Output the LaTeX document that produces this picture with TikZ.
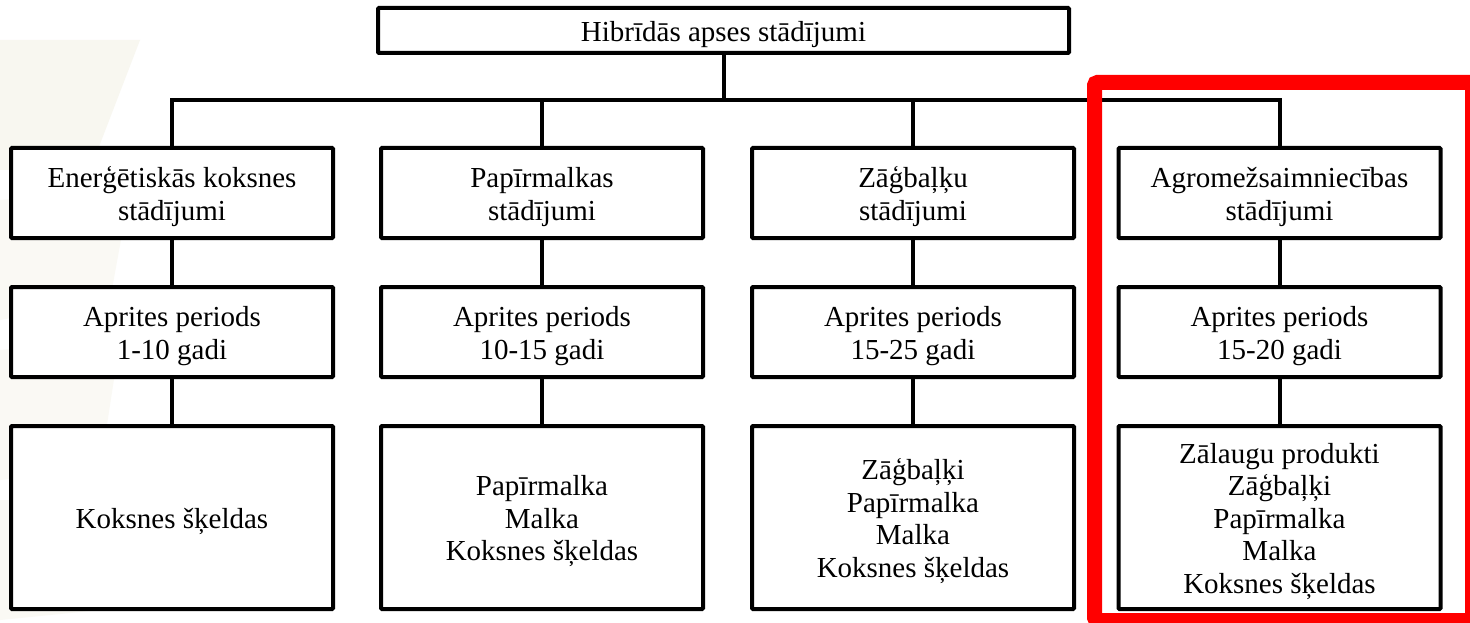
\documentclass[tikz,border=0pt]{standalone}
\usepackage{fontspec}
\setmainfont{Liberation Serif}
\definecolor{cream}{RGB}{248,247,240}
\definecolor{creamlight}{RGB}{250,249,244}
% struts that give every text block the same line boxes
\newcommand{\upstrut}{\rule{0pt}{28pt}}
\newcommand{\downstrut}{\rule[-6.5pt]{0pt}{6.5pt}}
\begin{document}
\begin{tikzpicture}[x=1pt,y=-1pt,
  box/.style={draw=black, line width=4pt, rounded corners=1pt, fill=white,
    inner sep=0pt, align=center, minimum width=322pt,
    font=\fontsize{29}{32.5}\selectfont},
  rowA/.style={box, minimum height=90pt},
  rowC/.style={box, minimum height=183pt},
  link/.style={draw=black, line width=4pt}]
\useasboundingbox (0,0) rectangle (1470,623);
\fill[white] (0,0) rectangle (1470,623);
% faint backdrop texture on the left edge
\fill[cream] (0,40) -- (140,40) -- (90,170) -- (0,170) -- cycle;
\fill[creamlight] (0,200) -- (130,190) -- (110,300) -- (0,320) -- cycle;
\fill[creamlight] (0,350) -- (120,340) -- (100,470) -- (0,480) -- cycle;
\fill[creamlight] (0,500) -- (110,500) -- (100,610) -- (0,620) -- cycle;

% root
\node[box, minimum width=691pt, minimum height=45pt] (root) at (723.5,30.5) {\upstrut Hibrīdās apses stādījumi\downstrut};
\coordinate (bus) at (723.5,100);

% plantation types
\node[rowA] (t1) at (172,193) {\upstrut Enerģētiskās koksnes\\stādījumi\downstrut};
\node[rowA] (t2) at (542,193) {\upstrut Papīrmalkas\\stādījumi\downstrut};
\node[rowA] (t3) at (913,193) {\upstrut Zāģbaļķu\\stādījumi\downstrut};
\node[rowA] (t4) at (1279.5,193) {\upstrut Agromežsaimniecības\\stādījumi\downstrut};

% rotation periods
\node[rowA] (p1) at (172,332) {\upstrut Aprites periods\\1-10 gadi\downstrut};
\node[rowA] (p2) at (542,332) {\upstrut Aprites periods\\10-15 gadi\downstrut};
\node[rowA] (p3) at (913,332) {\upstrut Aprites periods\\15-25 gadi\downstrut};
\node[rowA] (p4) at (1279.5,332) {\upstrut Aprites periods\\15-20 gadi\downstrut};

% products
\node[rowC] (r1) at (172,517.5) {\upstrut Koksnes šķeldas\downstrut};
\node[rowC] (r2) at (542,517.5) {\upstrut Papīrmalka\\Malka\\Koksnes šķeldas\downstrut};
\node[rowC] (r3) at (913,517.5) {\upstrut Zāģbaļķi\\Papīrmalka\\Malka\\Koksnes šķeldas\downstrut};
\node[rowC] (r4) at (1279.5,517.5) {\upstrut Zālaugu produkti\\Zāģbaļķi\\Papīrmalka\\Malka\\Koksnes šķeldas\downstrut};

% connectors
\draw[link] (root.south) -- (bus);
\draw[link] (t1.north) |- (bus) -| (t4.north);
\draw[link] (bus -| t2.north) -- (t2.north);
\draw[link] (bus -| t3.north) -- (t3.north);
\foreach \i in {1,2,3,4}{
  \draw[link] (t\i.south) -- (p\i.north);
  \draw[link] (p\i.south) -- (r\i.north);
}

% highlight frame around the agroforestry branch
\begin{scope}
\clip (0,0) rectangle (1470,623);
\draw[red, line width=15pt, rounded corners=3pt] (1094.5,82.5) rectangle (1472.5,620.5);
\end{scope}
\end{tikzpicture}
\end{document}
